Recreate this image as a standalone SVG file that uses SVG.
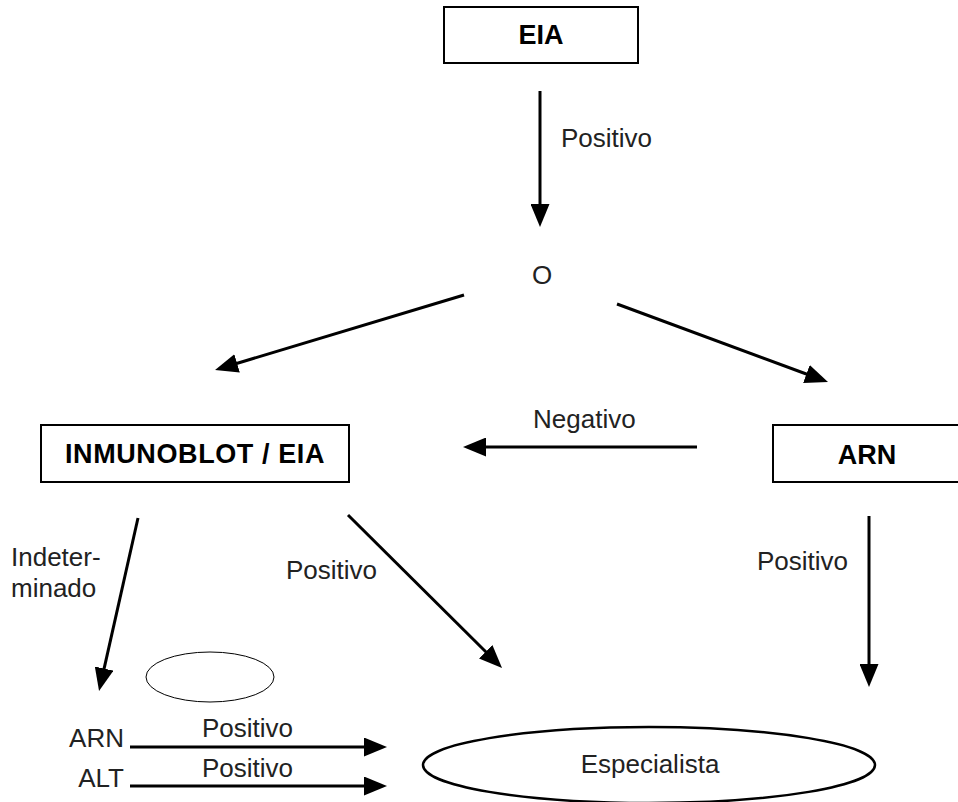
<svg xmlns="http://www.w3.org/2000/svg" width="958" height="802" viewBox="0 0 958 802">
<style>
.box{fill:#fff;stroke:#000;stroke-width:2}
.bt{font-family:"Liberation Sans",Arial,sans-serif;font-weight:bold;font-size:27px;fill:#000;text-anchor:middle}
.t{font-family:"Liberation Sans",Arial,sans-serif;font-size:26px;fill:#222}
.c{stroke:#000;stroke-width:3;fill:none;marker-end:url(#ah)}
</style>
<defs>
<marker id="ah" markerUnits="userSpaceOnUse" markerWidth="23" markerHeight="19" refX="10" refY="9.5" orient="auto">
<path d="M0,0 L23,9.5 L0,19 z" fill="#000"/>
</marker>
</defs>
<rect width="958" height="802" fill="#fff"/>
<g id="connectors">
<line class="c" x1="540" y1="91" x2="540" y2="214"/>
<line class="c" x1="464" y1="295" x2="227.5" y2="366.2"/>
<line class="c" x1="617" y1="304" x2="815.8" y2="377.5"/>
<line class="c" x1="697" y1="447" x2="476" y2="447"/>
<line class="c" x1="138" y1="518" x2="101.9" y2="678.3"/>
<line class="c" x1="348" y1="515" x2="492.8" y2="658.8"/>
<line class="c" x1="869" y1="516" x2="869" y2="674"/>
<line class="c" x1="130" y1="747" x2="374" y2="747"/>
<line class="c" x1="130" y1="786" x2="374" y2="786"/>
</g>
<g id="labels">
<text class="t" x="561" y="147">Positivo</text>
<text class="t" x="533" y="428">Negativo</text>
<text class="t" x="11" y="566">Indeter-</text>
<text class="t" x="11" y="597">minado</text>
<text class="t" x="286" y="579">Positivo</text>
<text class="t" x="757" y="570">Positivo</text>
<text class="t" x="202" y="737">Positivo</text>
<text class="t" x="202" y="777">Positivo</text>
</g>
<g id="eia">
<rect class="box" x="444" y="7" width="194" height="56"/>
<text class="bt" x="541" y="44">EIA</text>
</g>
<g id="o">
<text class="t" x="542" y="284" text-anchor="middle">O</text>
</g>
<g id="inmunoblot">
<rect class="box" x="41" y="425" width="308" height="57"/>
<text class="bt" x="195" y="463" letter-spacing="0.6">INMUNOBLOT / EIA</text>
</g>
<g id="arn">
<rect class="box" x="773" y="425" width="190" height="57"/>
<text class="bt" x="867" y="464">ARN</text>
</g>
<g id="small-ellipse">
<ellipse cx="210" cy="677" rx="64" ry="25" fill="none" stroke="#000" stroke-width="1"/>
</g>
<g id="arn-small">
<text class="t" x="124" y="747" text-anchor="end">ARN</text>
</g>
<g id="alt">
<text class="t" x="124" y="787" text-anchor="end">ALT</text>
</g>
<g id="especialista">
<ellipse cx="649" cy="765" rx="226" ry="38" fill="none" stroke="#000" stroke-width="2.5"/>
<text class="t" x="650" y="773" text-anchor="middle">Especialista</text>
</g>
</svg>
